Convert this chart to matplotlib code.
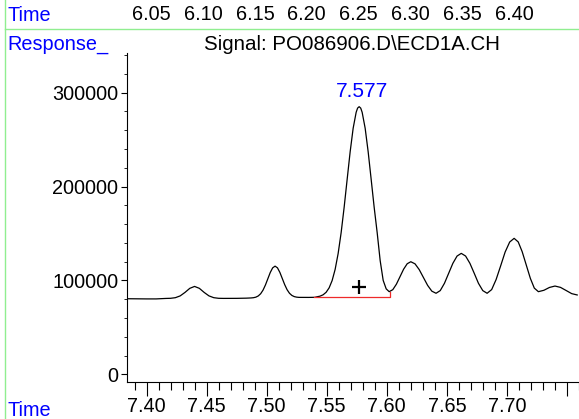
import numpy as np
import matplotlib
matplotlib.use('agg')
import matplotlib.pyplot as plt
from matplotlib.lines import Line2D

plt.rcParams['font.family'] = ['Liberation Sans', 'DejaVu Sans']
plt.rcParams['font.size'] = 14.3

# chromatogram trace (time in min, response)
time = [7.3835, 7.392, 7.400, 7.408, 7.416, 7.420, 7.424, 7.428, 7.432, 7.436,
        7.440, 7.444, 7.448, 7.452, 7.456, 7.460, 7.464, 7.475, 7.483,
        7.487, 7.489, 7.491, 7.493, 7.495, 7.497, 7.499, 7.501, 7.503, 7.505,
        7.507, 7.509, 7.511, 7.513, 7.515, 7.517, 7.519, 7.521, 7.523, 7.525,
        7.527, 7.535, 7.540,
        7.542, 7.5445, 7.547, 7.5495, 7.552, 7.5545, 7.557, 7.5595, 7.562, 7.5645,
        7.567, 7.5695, 7.572, 7.5745, 7.5757, 7.577, 7.5783, 7.5795, 7.582, 7.5845,
        7.587, 7.5895, 7.592, 7.5945, 7.597, 7.5995, 7.602,
        7.605, 7.608, 7.611, 7.614, 7.617, 7.620,
        7.6235, 7.627, 7.6305, 7.634, 7.6375, 7.641,
        7.6445, 7.648, 7.6515, 7.655, 7.6585, 7.662,
        7.6656, 7.6692, 7.6728, 7.6763, 7.6799, 7.6835,
        7.6873, 7.691, 7.6948, 7.6985, 7.7023, 7.706,
        7.7094, 7.7127, 7.7161, 7.7195, 7.7228, 7.7262,
        7.7308, 7.7354, 7.740, 7.7446, 7.7493, 7.7539, 7.7585]
response = [80500, 80400, 80300, 80300, 80800, 80950, 81600, 83500, 87200, 91550,
            93600, 91550, 87200, 83500, 81600, 80950, 80850, 80900, 81100,
            81330, 81580, 82170, 83440, 85800, 89670, 95180, 101820, 108430, 113360,
            115200, 113400, 108550, 102060, 95530, 90120, 86310, 84000, 82750, 82170,
            81930, 81900, 82000,
            82560, 83270, 84690, 87360, 92070, 99820, 111700, 128590, 150840, 177820,
            207540, 236930, 262020, 278990, 283480, 285000, 283480, 278990, 262020, 236930,
            207540, 177820, 150840, 121000, 100000, 91000, 88000,
            90140, 95980, 103950, 111930, 117760, 119900,
            117650, 111500, 103100, 94700, 88550, 86300,
            89150, 96930, 107550, 118180, 125950, 128800,
            125950, 118180, 107550, 96930, 89150, 86300,
            90220, 100930, 115550, 130180, 140880, 144800,
            141000, 130600, 116400, 102200, 91800, 88000,
            89500, 92500, 94000, 92580, 89250, 85930, 84500]

# integration baseline of the labelled peak
base_t = [7.5396, 7.6024, 7.6024]
base_v = [82000, 82000, 88000]
peak_t = 7.577
peak_v = 285000
peak_label = '7.577'
mark_t = 7.577
mark_v = 92600

x_ticks = [7.40, 7.45, 7.50, 7.55, 7.60, 7.65, 7.70, 7.75]
x_labels = ['7.40', '7.45', '7.50', '7.55', '7.60', '7.65', '7.70', '']
y_ticks = [0, 100000, 200000, 300000]
y_labels = ['0', '100000', '200000', '300000']
top_times = ['6.05', '6.10', '6.15', '6.20', '6.25', '6.30', '6.35', '6.40']
title = 'Signal: PO086906.D\\ECD1A.CH'

W, H = 579, 419
fig = plt.figure(figsize=(W / 100, H / 100), dpi=100)
ax = fig.add_axes([126.7 / W, (H - 382.3) / H, (W - 126.7) / W, (382.3 - 53.3) / H])

ax.plot(time, response, color='black', lw=0.9)
ax.plot(base_t, base_v, color='#ee2a2a', lw=0.9)
ax.plot([mark_t], [mark_v], marker='+', color='black', ms=10, mew=1.6)
ax.annotate(peak_label, (peak_t, peak_v), xytext=(2, 4), textcoords='offset points',
            ha='center', va='bottom', color='#0000ff', fontsize=15)

ax.set_xlim(7.3835, 7.7585)
ax.set_ylim(-8500, 341850)
for s in ['top', 'right']:
    ax.spines[s].set_visible(False)
for s in ['left', 'bottom']:
    ax.spines[s].set_linewidth(0.8)

ax.set_xticks(x_ticks)
ax.set_xticklabels(x_labels)
ax.set_xticks(np.arange(7.39, 7.76, 0.01), minor=True)
ax.set_yticks(y_ticks)
ax.set_yticklabels(y_labels)
ax.set_yticks(np.arange(20000, 340001, 20000), minor=True)
ax.tick_params(axis='x', which='major', length=10, width=0.8, pad=0.5)
ax.tick_params(axis='x', which='minor', length=5.5, width=0.8)
ax.tick_params(axis='y', which='major', length=4, width=0.8, pad=2)
ax.tick_params(axis='y', which='minor', length=2.5, width=0.6)

blue = '#0000ff'
fig.text(7 / W, (H - 21) / H, 'Time', color=blue, va='baseline', ha='left')
for i, lab in enumerate(top_times):
    fig.text((151.4 + i * 51.8) / W, (H - 20.5) / H, lab, va='baseline', ha='center')
fig.text(7 / W, (H - 50) / H, 'Response_', color=blue, va='baseline', ha='left')
fig.text(352 / W, (H - 50) / H, title, va='baseline', ha='center', fontsize=14.8)
fig.text(7 / W, 3 / H, 'Time', color=blue, va='baseline', ha='left')

green = '#90ee90'
fig.add_artist(Line2D([5.2 / W, 5.2 / W], [0, 1], color=green, lw=1, transform=fig.transFigure))
fig.add_artist(Line2D([5.2 / W, 1], [(H - 28.8) / H] * 2, color=green, lw=1, transform=fig.transFigure))

fig.savefig('out.png', dpi=100)
